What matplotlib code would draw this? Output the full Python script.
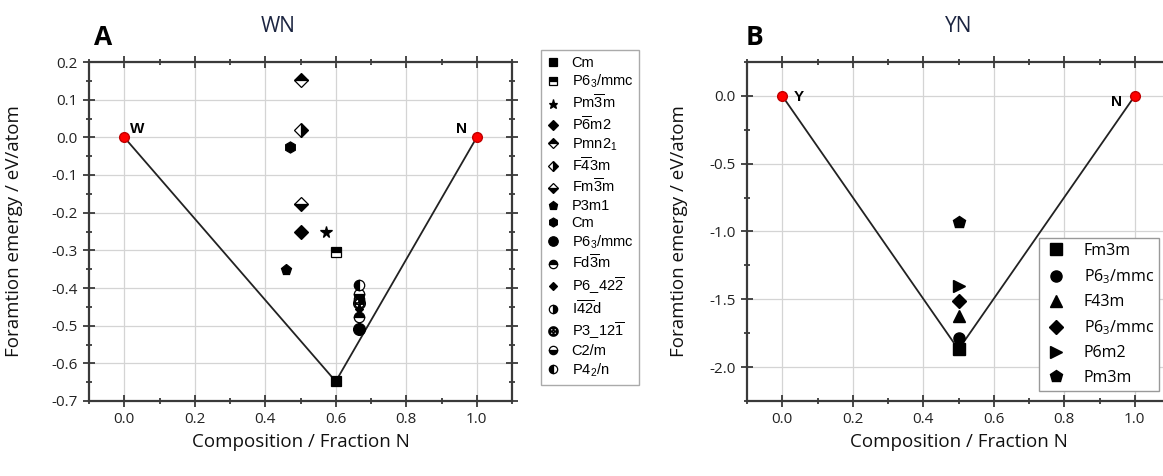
import matplotlib
matplotlib.use('Agg')
from matplotlib import pyplot as plt
from matplotlib.ticker import MultipleLocator

plt.rcParams['mathtext.default'] = 'regular'
plt.rcParams['axes.unicode_minus'] = False

# ---- WN data (composition, formation energy) ----
wn_ends_x = [0.0, 1.0]
wn_ends_y = [0.0, 0.0]
wn_ends_lab = ['W', 'N']
wn_hull_x = [0.0, 0.6, 1.0]
wn_hull_y = [0.0, -0.648, 0.0]

wn_names = ['Cm', 'P6$_3$/mmc', r'Pm$\overline{3}$m', r'P$\overline{6}$m2', 'Pmn2$_1$',
            r'F$\overline{4}$3m', r'Fm$\overline{3}$m', 'P3m1', 'Cm', 'P6$_3$/mmc',
            r'Fd$\overline{3}$m', r'P6_42$\overline{2}$', r'I$\overline{42}$d',
            r'P3_12$\overline{1}$', 'C2/m', 'P4$_2$/n']
wn_x = [0.6, 0.6, 0.571, 0.5, 0.5, 0.5, 0.5, 0.46, 0.47, 0.667,
        0.667, 0.667, 0.667, 0.667, 0.667, 0.667]
wn_y = [-0.648, -0.305, -0.25, -0.25, 0.152, 0.02, -0.178, -0.352, -0.025, -0.508,
        -0.476, -0.455, -0.43, -0.44, -0.415, -0.392]
wn_marker = ['s', 's', '*', 'D', 'D', 'D', 'D', 'p', 'h', 'o',
             'o', 'D', 'o', '$\u2295$', 'o', 'o']
wn_fill = ['full', 'top', 'full', 'full', 'top', 'right', 'bottom', 'full', 'full', 'full',
           'top', 'full', 'right', 'none', 'bottom', 'left']
wn_size = [7.5, 6.5, 8.5, 7, 7, 7, 7, 8, 8, 8.5, 7.5, 4.5, 7.5, 8.5, 7.5, 7.5]

# ---- YN data ----
yn_ends_x = [0.0, 1.0]
yn_ends_y = [0.0, 0.0]
yn_ends_lab = ['Y', 'N']
yn_hull_x = [0.0, 0.5, 1.0]
yn_hull_y = [0.0, -1.87, 0.0]

yn_names = ['Fm3m', 'P6$_3$/mmc', 'F43m', 'P6$_3$/mmc', 'P6m2', 'Pm3m']
yn_x = [0.5, 0.5, 0.5, 0.5, 0.5, 0.5]
yn_y = [-1.87, -1.785, -1.625, -1.51, -1.40, -0.93]
yn_marker = ['s', 'o', '^', 'D', '>', 'p']
yn_size = [8, 8, 8, 7, 8, 9]

title_col = '#1c2541'
spine_col = '#3a3a3a'
lab_font = 'Open Sans'


def style_axes(ax, xlim, ylim, ymaj, ymin):
    ax.set_xlim(*xlim)
    ax.set_ylim(*ylim)
    ax.xaxis.set_major_locator(MultipleLocator(0.2))
    ax.xaxis.set_minor_locator(MultipleLocator(0.1))
    ax.yaxis.set_major_locator(MultipleLocator(ymaj))
    ax.yaxis.set_minor_locator(MultipleLocator(ymin))
    ax.grid(True, which='major', color='#d4d4d4', linewidth=0.9)
    ax.set_axisbelow(True)
    for s in ax.spines.values():
        s.set_color(spine_col)
        s.set_linewidth(1.6)
    ax.tick_params(which='both', direction='inout', top=True, right=True,
                   color=spine_col, width=1.3, labelsize=11, pad=4)
    ax.tick_params(which='major', length=8)
    ax.tick_params(which='minor', length=5)
    for t in ax.get_xticklabels() + ax.get_yticklabels():
        t.set_fontfamily(lab_font)
        t.set_color('#222222')
    ax.set_xlabel('Composition / Fraction N', fontsize=13.5, fontfamily=lab_font, color='#111111')
    ax.set_ylabel('Foramtion emergy / eV/atom', fontsize=13.5, fontfamily=lab_font, color='#111111')


fig = plt.figure(figsize=(11.63, 4.76), dpi=100)

# ---------------- Panel A ----------------
axA = fig.add_axes([89 / 1163, 1 - 401 / 476, 423 / 1163, 339 / 476])
axA.plot(wn_hull_x, wn_hull_y, color='#222222', linewidth=1.3, zorder=2)
handlesA = []
for i in range(len(wn_names)):
    h, = axA.plot(wn_x[i], wn_y[i], linestyle='none', marker=wn_marker[i], markersize=wn_size[i],
                  fillstyle=wn_fill[i], color='black', markerfacecoloralt='white',
                  markeredgecolor='black', markeredgewidth=0.9, zorder=4)
    handlesA.append(h)
axA.plot(wn_ends_x, wn_ends_y, 'o', color='red', markersize=7, markeredgecolor='#c00000', zorder=5)
axA.annotate(wn_ends_lab[0], (wn_ends_x[0], wn_ends_y[0]), xytext=(4, 3), textcoords='offset points',
             fontsize=11, fontweight='bold', fontfamily='Liberation Sans')
axA.annotate(wn_ends_lab[1], (wn_ends_x[1], wn_ends_y[1]), xytext=(-15, 3), textcoords='offset points',
             fontsize=11, fontweight='bold', fontfamily='Liberation Sans')
style_axes(axA, (-0.1, 1.1), (-0.7, 0.2), 0.1, 0.05)
axA.yaxis.set_label_coords(-0.155, 0.5)
fig.legend(handlesA, wn_names, loc='upper left', bbox_to_anchor=(541 / 1163, 1 - 50 / 476),
           prop={'family': 'Liberation Sans', 'size': 10.5}, frameon=True, fancybox=False,
           edgecolor='#aaaaaa', framealpha=1, labelspacing=0.22, handlelength=0.9,
           handletextpad=0.8, borderpad=0.4, borderaxespad=0, markerscale=0.8)
fig.text(278 / 1163, 1 - 27 / 476, 'WN', fontsize=15, color=title_col, fontfamily=lab_font,
         ha='center', va='center')
fig.text(103 / 1163, 1 - 38 / 476, 'A', fontsize=19, fontweight='bold', fontfamily=lab_font,
         ha='center', va='center')

# ---------------- Panel B ----------------
axB = fig.add_axes([747 / 1163, 1 - 401 / 476, 423 / 1163, 339 / 476])
axB.plot(yn_hull_x, yn_hull_y, color='#222222', linewidth=1.3, zorder=2)
handlesB = []
for i in range(len(yn_names)):
    h, = axB.plot(yn_x[i], yn_y[i], linestyle='none', marker=yn_marker[i], markersize=yn_size[i],
                  color='black', zorder=4)
    handlesB.append(h)
axB.plot(yn_ends_x, yn_ends_y, 'o', color='red', markersize=7, markeredgecolor='#c00000', zorder=5)
axB.annotate(yn_ends_lab[0], (yn_ends_x[0], yn_ends_y[0]), xytext=(8, -4), textcoords='offset points',
             fontsize=11, fontweight='bold', fontfamily='Liberation Sans')
axB.annotate(yn_ends_lab[1], (yn_ends_x[1], yn_ends_y[1]), xytext=(-17, -7), textcoords='offset points',
             fontsize=11, fontweight='bold', fontfamily='Liberation Sans')
style_axes(axB, (-0.1, 1.1), (-2.25, 0.25), 0.5, 0.25)
axB.yaxis.set_label_coords(-0.14, 0.5)
axB.legend(handlesB, yn_names, loc='upper left', bbox_to_anchor=(1039 / 1163, 1 - 238 / 476),
           bbox_transform=fig.transFigure, prop={'family': lab_font, 'size': 11.5},
           frameon=True, fancybox=False, edgecolor='#999999', framealpha=1,
           labelspacing=0.52, handlelength=1.5, handletextpad=1.0, borderpad=0.3, borderaxespad=0)
fig.text(959 / 1163, 1 - 27 / 476, 'YN', fontsize=15, color=title_col, fontfamily=lab_font,
         ha='center', va='center')
fig.text(755 / 1163, 1 - 38 / 476, 'B', fontsize=19, fontweight='bold', fontfamily=lab_font,
         ha='center', va='center')

fig.savefig('out.png', dpi=100)
